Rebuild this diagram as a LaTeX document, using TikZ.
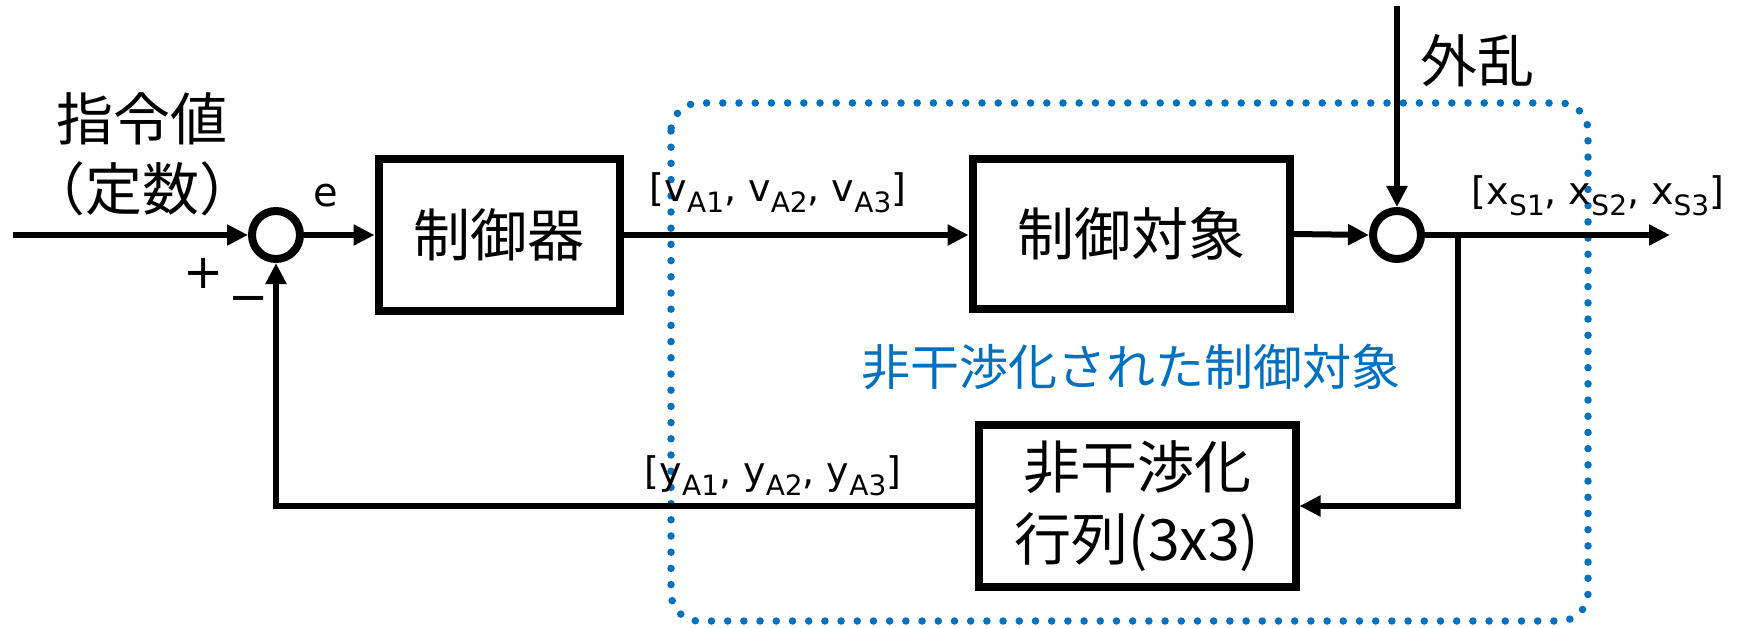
\documentclass[tikz,border=0pt]{standalone}
\usepackage{fontspec}
\setmainfont{Noto Sans CJK JP}
\newfontfamily\latinfont{DejaVu Sans}
\usetikzlibrary{arrows.meta}
\definecolor{dotblue}{HTML}{0070C0}
\newcommand{\sbs}[1]{\raisebox{-0.3em}{\fontsize{28}{30}\selectfont #1}}
\tikzset{
  blk/.style={draw, line width=8pt, minimum width=#1, inner sep=0pt},
  sumpt/.style={draw, circle, line width=8pt, minimum size=48pt, inner sep=0pt},
  sig/.style={line width=6pt, -{Triangle[length=21pt,width=20pt]}},
  big/.style={font=\fontsize{57}{66}\selectfont, inner sep=0pt},
  lbl/.style={font=\latinfont\fontsize{38}{42}\selectfont, inner sep=0pt},
  sign/.style={font=\latinfont\fontsize{48}{50}\selectfont, inner sep=0pt},
}
\begin{document}
\begin{tikzpicture}[x=1pt,y=-1pt]
\useasboundingbox (0,0) rectangle (1744,628);
% blue dotted region
\draw[dotblue, line width=7.5pt, line cap=round, dash pattern=on 0pt off 16.2pt, rounded corners=28pt]
  (671,103) rectangle (1588,621);
\node[big, text=dotblue, font=\fontsize{49}{58}\selectfont] (lbldec) at (1131,367) {非干渉化された制御対象};

% blocks
\node[blk=241pt, minimum height=152pt, big] (b1) at (499,235) {制御器};
\node[blk=317pt, minimum height=150pt, big] (b2) at (1131,234) {制御対象};
\node[blk=317pt, minimum height=162pt, big, align=center, font=\fontsize{57}{72}\selectfont] (b3) at (1137,506) {非干渉化\\行列(3x3)};

% summing points
\node[sumpt] (s1) at (276,235) {};
\node[sumpt] (s2) at (1397,235) {};

% coordinates
\coordinate (in) at (13,235);
\coordinate (dtop) at (1397,6);
\coordinate (outend) at (1670,235);
\coordinate (br) at (1458,235);

% connectors
\draw[sig] (in) -- (s1.west);
\draw[sig] (s1.east) -- (b1.west);
\draw[sig] (b1.east) -- (b1.east -| b2.west);
\draw[sig] (b2.east) -- (s2.west);
\draw[sig] (dtop) -- (s2.north);
\draw[sig] (s2.east) -- (outend);
\draw[sig] (br) |- (b3.east);
\draw[sig] (b3.west) -| (s1.south);

% labels
\node[big, align=center, font=\fontsize{57}{70}\selectfont] (ref) at (142,154) {指令値\\（定数）};
\node[lbl, font=\latinfont\fontsize{40}{42}\selectfont] (le) at (326,196) {e};
\node[sign] (lplus) at (204,273) {+};
\node[sign] (lminus) at (249,305) {−};
\node[big] (ldist) at (1477,61) {外乱};
\node[lbl] (lv) at (778,193) {[v\sbs{A1}, v\sbs{A2}, v\sbs{A3}]};
\node[lbl] (lx) at (1598,196) {[x\sbs{S1}, x\sbs{S2}, x\sbs{S3}]};
\node[lbl] (ly) at (773,476) {[y\sbs{A1}, y\sbs{A2}, y\sbs{A3}]};
\end{tikzpicture}
\end{document}
